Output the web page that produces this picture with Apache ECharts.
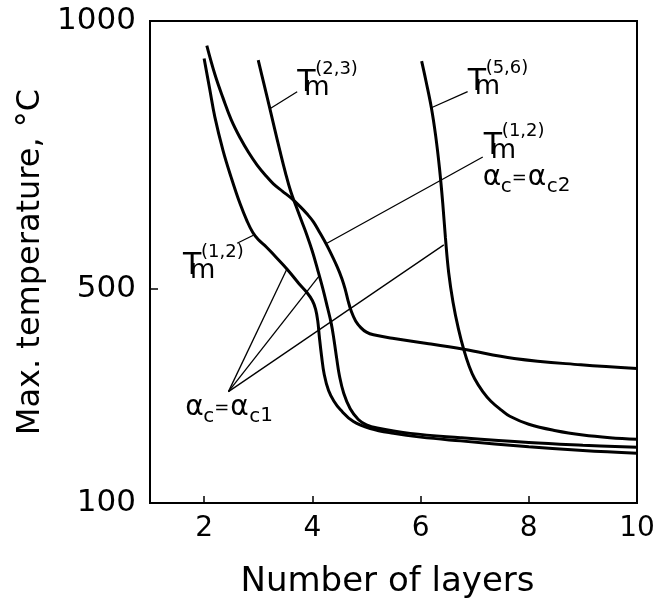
<!DOCTYPE html>
<html>
<head>
<meta charset="utf-8">
<script src="https://cdn.jsdelivr.net/npm/echarts@6/dist/echarts.min.js"></script>
<style>
    html, body { margin: 0; background: #fff; }
    #chart { width: 668px; height: 605px; }
</style>
</head>
<body>
<div id="chart"></div>
<script>
const xLabelValues = [2, 4, 6, 8, 10];
const xTickValues = [2, 4, 6, 8];
const yLabelValues = [100, 500, 1000];
const yTickValues = [500];

// T_m(1,2), alpha_c = alpha_c1
const t12c1 = [
    [2.0, 930], [2.1, 875], [2.2, 820], [2.35, 758], [2.5, 708], [2.66, 660],
    [2.8, 625], [2.9, 605], [3.0, 592], [3.15, 578], [3.3, 562], [3.53, 537],
    [3.75, 510], [3.9, 493], [4.0, 478], [4.06, 462], [4.1, 440], [4.13, 410],
    [4.17, 375], [4.22, 340], [4.3, 310], [4.4, 290], [4.52, 274], [4.76, 252],
    [5.07, 239], [5.5, 230], [6.0, 223], [6.74, 216], [8.0, 205], [9.0, 198], [10, 193]
];
// T_m(1,2), alpha_c = alpha_c2
const t12c2 = [
    [2.05, 954], [2.2, 900], [2.35, 856], [2.5, 816], [2.67, 781], [2.82, 755],
    [2.98, 731], [3.15, 710], [3.28, 696], [3.45, 682], [3.6, 670], [3.78, 653],
    [3.9, 640], [4.02, 625], [4.12, 608], [4.2, 594], [4.3, 575], [4.46, 541],
    [4.55, 518], [4.61, 498], [4.66, 478], [4.72, 458], [4.8, 440], [4.9, 427],
    [5.0, 419], [5.13, 414], [5.51, 407], [6.12, 398], [6.8, 387], [7.73, 370],
    [8.96, 358], [10, 351]
];
// T_m(2,3), alpha_c = alpha_c1
const t23c1 = [
    [3.0, 927], [3.1, 885], [3.2, 843], [3.3, 800], [3.4, 758], [3.5, 718],
    [3.6, 682], [3.7, 654], [3.8, 627], [3.9, 600], [4.0, 570], [4.1, 535],
    [4.2, 498], [4.28, 465], [4.35, 435], [4.4, 405], [4.45, 370], [4.5, 338],
    [4.58, 305], [4.7, 276], [4.85, 256], [5.0, 246], [5.2, 240], [5.81, 230],
    [6.74, 222], [8.0, 213], [9.0, 208], [10, 204]
];
// T_m(5,6), alpha_c = alpha_c1
const t56c1 = [
    [6.02, 925], [6.1, 888], [6.2, 838], [6.28, 785], [6.35, 725], [6.41, 660],
    [6.46, 595], [6.52, 530], [6.6, 475], [6.7, 425], [6.8, 386], [6.9, 355],
    [7.0, 332], [7.15, 308], [7.3, 290], [7.5, 273], [7.65, 262], [8.0, 247],
    [8.5, 235], [9.0, 227], [9.5, 222], [10, 219]
];

// thin leader lines between labels and curves
const leaders = [
    [[3.23, 837], [3.72, 868]],
    [[6.2, 838], [6.87, 868]],
    [[4.27, 585], [7.15, 746]],
    [[2.91, 600], [2.61, 585]],
    [[2.45, 308], [3.53, 537]],
    [[2.45, 308], [4.12, 523]],
    [[2.45, 308], [6.43, 582]]
];

const labelSpots = [
    { x: 3.72, y: 883, kind: "T", text: "(2,3)" },
    { x: 6.87, y: 886, kind: "T", text: "(5,6)" },
    { x: 7.17, y: 767, kind: "T", text: "(1,2)" },
    { x: 1.61, y: 542, kind: "T", text: "(1,2)" },
    { x: 7.15, y: 708, kind: "a", text: "2" },
    { x: 1.65, y: 278, kind: "a", text: "1" }
];

const FONT = "DejaVu Sans";

const partsFor = (spot) => {
    if (spot.kind === "T") {
        return [
            { t: "T", dx: 0, dy: 0, size: 30 },
            { t: "m", dx: 7, dy: 5, size: 26 },
            { t: spot.text, dx: 18, dy: -14, size: 18 }
        ];
    }
    return [
        { t: "α", dx: 0, dy: 0, size: 28 },
        { t: "c", dx: 18, dy: 9, size: 20 },
        { t: "=", dx: 29, dy: 1, size: 18 },
        { t: "α", dx: 45, dy: 0, size: 28 },
        { t: "c", dx: 64, dy: 9, size: 20 },
        { t: spot.text, dx: 75, dy: 8, size: 20 }
    ];
};

const curveStyle = (data) => ({
    type: "line",
    data: data,
    showSymbol: false,
    smooth: 0.4,
    lineStyle: { color: "#000", width: 3 },
    silent: true
});

const chart = echarts.init(document.getElementById("chart"));

const option = {
    animation: false,
    backgroundColor: "#fff",
    grid: {
        left: 150, right: 31, top: 21, bottom: 102,
        show: true, borderColor: "#000", borderWidth: 2
    },
    xAxis: {
        type: "value",
        min: 1, max: 10,
        name: "Number of layers",
        nameLocation: "middle",
        nameGap: 62,
        nameTextStyle: { fontFamily: FONT, fontSize: 34, color: "#000", padding: [0, 12, 0, 0] },
        axisLine: { show: false },
        splitLine: { show: false },
        axisTick: { show: true, inside: true, length: 7, customValues: xTickValues, lineStyle: { color: "#000", width: 1.5 } },
        axisLabel: {
            customValues: xLabelValues, fontFamily: FONT, fontSize: 28, color: "#000", margin: 12,
            formatter: v => String(v)
        }
    },
    yAxis: {
        type: "value",
        min: 100, max: 1000,
        name: "Max. temperature, °C",
        nameLocation: "middle",
        nameRotate: 90,
        nameGap: 96,
        nameTextStyle: { fontFamily: FONT, fontSize: 32, color: "#000" },
        axisLine: { show: false },
        splitLine: { show: false },
        axisTick: { show: true, inside: true, length: 8, customValues: yTickValues, lineStyle: { color: "#000", width: 1.5 } },
        axisLabel: {
            customValues: yLabelValues, fontFamily: FONT, fontSize: 31, color: "#000", margin: 14,
            formatter: v => String(v)
        }
    },
    series: [
        curveStyle(t12c1),
        curveStyle(t12c2),
        curveStyle(t23c1),
        curveStyle(t56c1),
        {
            type: "line",
            data: [],
            silent: true,
            markLine: {
                silent: true,
                symbol: "none",
                label: { show: false },
                lineStyle: { color: "#000", width: 1.3, type: "solid" },
                data: leaders.map(l => [{ coord: l[0] }, { coord: l[1] }])
            }
        },
        {
            type: "custom",
            silent: true,
            clip: false,
            data: labelSpots.map(s => [s.x, s.y]),
            encode: { x: 0, y: 1 },
            renderItem: (params, api) => {
                const spot = labelSpots[params.dataIndex];
                const p = api.coord([spot.x, spot.y]);
                return {
                    type: "group",
                    children: partsFor(spot).map(pt => ({
                        type: "text",
                        x: p[0] + pt.dx,
                        y: p[1] + pt.dy,
                        style: {
                            text: pt.t,
                            fontFamily: FONT,
                            fontSize: pt.size,
                            fill: "#000",
                            align: "left",
                            verticalAlign: "middle"
                        }
                    }))
                };
            }
        }
    ]
};

chart.setOption(option);
</script>
</body>
</html>
